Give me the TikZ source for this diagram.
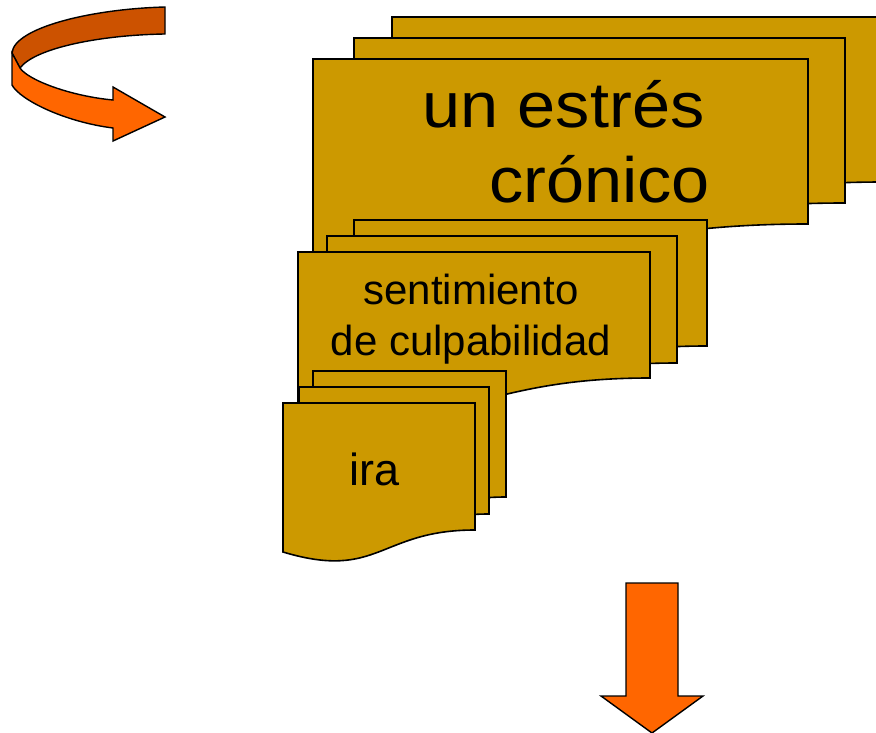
\documentclass[tikz,border=0pt]{standalone}
\usepackage{fontspec}
\setmainfont{Liberation Sans}
\definecolor{docfill}{HTML}{CC9900}
\definecolor{arrowfill}{HTML}{FF6600}
\definecolor{arrowdark}{HTML}{CC5200}
\tikzset{
  docpage/.style={fill=docfill, draw=black, line width=1.6pt, line join=miter},
  blockarrow/.style={fill=arrowfill, draw=black, line width=1.4pt, line join=miter},
  foldarrow/.style={fill=arrowdark, draw=black, line width=1.4pt, line join=miter},
  bigtext/.style={font=\fontsize{64}{75}\selectfont, inner sep=0pt, xscale=1.07},
  midtext/.style={font=\fontsize{42}{51}\selectfont, inner sep=0pt},
  smalltext/.style={font=\fontsize{45}{54}\selectfont, inner sep=0pt}
}
% page: x1, top, x2, right-bottom y, left-bottom y
\newcommand{\docpg}[5]{%
  \filldraw[docpage] (#1,#2) -- (#3,#2) -- (#3,#4)
    .. controls ({(#1+#3)/2},#4) and ({(#1+#3)/2},{#4+2.31*(#5-#4)}) .. (#1,#5) -- cycle;}
\begin{document}
\begin{tikzpicture}[x=1pt,y=-1pt]
\useasboundingbox (0,0) rectangle (876,733);
\clip (0,0) rectangle (876,733);

% curved arrow (top left)
\filldraw[foldarrow] (165,7) .. controls (90,9) and (14,28) .. (12,53)
  -- (20,68) .. controls (35,48) and (100,35) .. (165,34) -- cycle;
\filldraw[blockarrow] (12,53) -- (12,85) .. controls (20,100) and (65,122) .. (113,128)
  -- (113,141) -- (165,117) -- (113,87) -- (113,100)
  .. controls (70,96) and (28,80) .. (20,68) -- cycle;

% big stack
\docpg{392}{17}{884}{182}{212}
\docpg{354}{38}{845}{203}{233}
\docpg{313}{59}{808}{224}{254}
\node[bigtext, anchor=base east] (stress) at (710,202)
  {\begin{tabular}[b]{@{}r@{}}un estrés\kern5pt\\crónico\end{tabular}};

% middle stack
\docpg{354}{220}{707}{346}{370}
\docpg{327}{236}{677}{363}{387}
\docpg{298}{252}{650}{378}{402}
\node[midtext, anchor=base] (culpa) at (471,355)
  {\begin{tabular}[b]{@{}c@{}}sentimiento\\de culpabilidad\end{tabular}};

% small stack
\docpg{313}{371}{506}{497}{519}
\docpg{299}{387}{489}{514}{536}
\docpg{283}{403}{475}{530}{552}
\node[smalltext, anchor=base] (ira) at (375,485) {ira};

% down arrow
\filldraw[blockarrow] (626,583) -- (678,583) -- (678,696) -- (703,696)
  -- (652,733) -- (601,696) -- (626,696) -- cycle;
\end{tikzpicture}
\end{document}
